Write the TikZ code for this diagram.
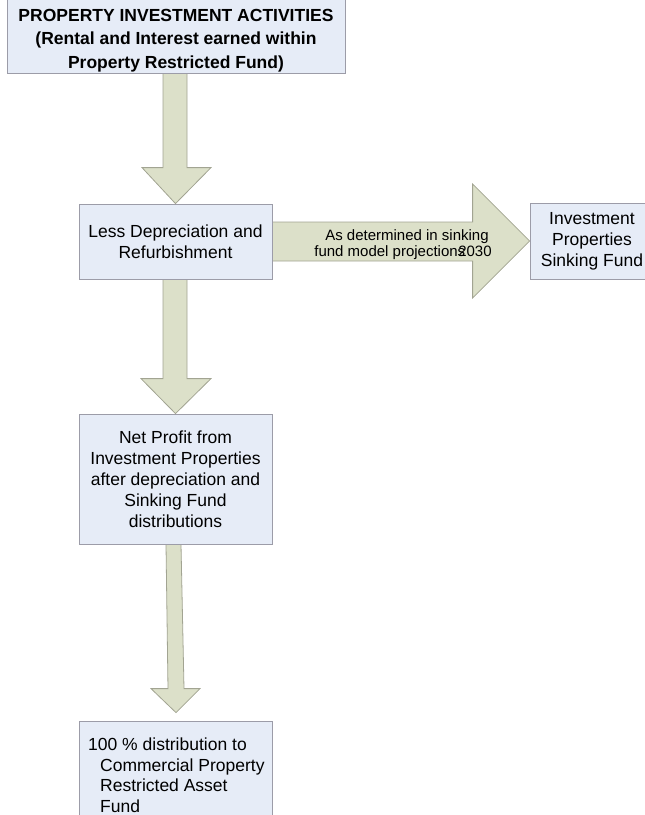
\documentclass[tikz,border=0pt]{standalone}
\usepackage{fontspec}
\setmainfont{Liberation Sans}
\usetikzlibrary{calc,backgrounds}
\definecolor{boxfill}{HTML}{E6ECF7}
\definecolor{boxline}{HTML}{9C9CA8}
\definecolor{arrfill}{HTML}{DCE0C9}
\definecolor{arrline}{HTML}{A2A492}
\begin{document}
\begin{tikzpicture}[x=1pt,y=-1pt,
  box/.style={draw=boxline, fill=boxfill, line width=0.8pt, inner sep=0pt, align=center,
    font=\fontsize{17.5}{21}\selectfont},
  boxtext/.style={inner sep=0pt, font=\fontsize{17.5}{20.7}\selectfont},
  blockarrow/.style={draw=arrline, fill=arrfill, line width=0.8pt, line join=miter},
  arrowlabel/.style={inner sep=0pt, align=center, font=\fontsize{15}{16.5}\selectfont}]
\useasboundingbox (0,0) rectangle (645,815);
\clip (0,0) rectangle (645,815);

% boxes
\node[box, minimum width=338pt, minimum height=78pt,
      font=\bfseries\fontsize{17.5}{23.5}\selectfont] (top) at (176,34)
  {\rule{0pt}{25pt}PROPERTY INVESTMENT ACTIVITIES\\(Rental and Interest earned within\\Property Restricted Fund)};
\node[box, minimum width=193pt, minimum height=75pt, font=\fontsize{17.5}{20.5}\selectfont] (box2) at (175.5,241.5)
  {Less Depreciation and\\Refurbishment};
\node[box, minimum width=124pt, minimum height=76pt] (box3) at (592,241)
  {Investment\\Properties\\Sinking Fund};
\node[box, minimum width=193pt, minimum height=130pt] (box4) at (175.5,479)
  {Net Profit from\\Investment Properties\\after depreciation and\\Sinking Fund\\distributions};
\node[box, minimum width=193pt, minimum height=110pt] (box5) at (175.5,776) {};
\node[boxtext, anchor=north west, align=left] (box5text) at (88,737.5)
  {100 \% distribution to\\\hspace*{12pt}Commercial Property\\\hspace*{12pt}Restricted Asset\\\hspace*{12pt}Fund};

% block arrows
\begin{scope}[on background layer]
\draw[blockarrow] ($(top.south)+(-13,0)$) -- ($(box2.north)+(-12.5,-36)$) -- ($(box2.north)+(-33.5,-36)$)
  -- (box2.north) -- ($(box2.north)+(35.5,-36)$) -- ($(box2.north)+(11.5,-36)$) -- ($(top.south)+(11,0)$) -- cycle;
\draw[blockarrow] ($(box2.south)+(-12.5,0)$) -- ($(box4.north)+(-12.5,-35)$) -- ($(box4.north)+(-34.5,-35)$)
  -- (box4.north) -- ($(box4.north)+(35.5,-35)$) -- ($(box4.north)+(11.5,-35)$) -- ($(box2.south)+(11.5,0)$) -- cycle;
\coordinate (tip3) at ($(box5.north)+(0.5,-8)$);
\draw[blockarrow] ($(box4.south)+(-9.5,0)$) -- ($(tip3)+(-8,-24)$) -- ($(tip3)+(-25,-24)$)
  -- (tip3) -- ($(tip3)+(24,-24)$) -- ($(tip3)+(8,-24)$) -- ($(box4.south)+(5.5,0)$) -- cycle;
\draw[blockarrow] ($(box2.east)+(0,-19.5)$) -- ($(box3.west)+(-57,-19)$) -- ($(box3.west)+(-57,-57)$)
  -- (box3.west) -- ($(box3.west)+(-57,57)$) -- ($(box3.west)+(-57,20)$) -- ($(box2.east)+(0,19.5)$) -- cycle;
\end{scope}
\node[arrowlabel] (lbl) at (403,244.5)
  {\hspace*{8pt}As determined in sinking\\fund model projections\hspace{-7pt}2030};
\end{tikzpicture}
\end{document}
